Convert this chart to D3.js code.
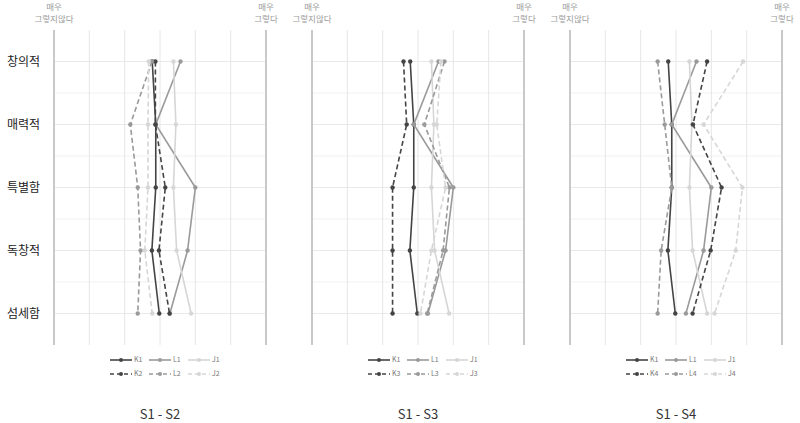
<!DOCTYPE html>
<html><head><meta charset="utf-8">
<script src="https://cdn.jsdelivr.net/npm/d3@7"></script>
<style>body{margin:0;background:#fff}svg{display:block;font-family:"Noto Sans CJK KR","Noto Sans",sans-serif}</style>
</head><body><svg id="c" width="800" height="423"></svg>
<script>
const categories = ['창의적','매력적','특별함','독창적','섬세함'];
const scaleTicks = [1,2,3,4,5,6,7];
const leftLabel = ['매우','그렇지않다'];
const rightLabel = ['매우','그렇다'];
const panelTitles = ['S1 - S2','S1 - S3','S1 - S4'];

const K1 = [3.78, 3.88, 3.88, 3.77, 3.98];
const L1 = [4.58, 3.88, 5.00, 4.78, 4.28];
const J1 = [4.38, 4.45, 4.38, 4.47, 4.88];
const K2 = [3.87, 3.87, 4.15, 3.97, 4.27];
const L2 = [3.77, 3.16, 3.37, 3.45, 3.37];
const J2 = [3.68, 3.66, 3.66, 3.57, 3.78];
const K3 = [3.59, 3.68, 3.28, 3.28, 3.28];
const L3 = [4.75, 4.18, 4.89, 4.71, 4.26];
const J3 = [4.65, 4.53, 4.78, 4.38, 4.07];
const K4 = [4.88, 4.48, 5.29, 4.98, 4.47];
const L4 = [3.48, 3.68, 3.88, 3.58, 3.48];
const J4 = [5.90, 4.78, 5.88, 5.69, 5.09];

const panels = [
  {title: panelTitles[0], series: [['K1',K1],['L1',L1],['J1',J1],['K2',K2],['L2',L2],['J2',J2]]},
  {title: panelTitles[1], series: [['K1',K1],['L1',L1],['J1',J1],['K3',K3],['L3',L3],['J3',J3]]},
  {title: panelTitles[2], series: [['K1',K1],['L1',L1],['J1',J1],['K4',K4],['L4',L4],['J4',J4]]}
];
const colorOf = {K:'#444444', L:'#9a9a9a', J:'#d6d6d6'};

const svg = d3.select('#c');
const panelLeft = [54, 312, 570], panelW = 212;
const plotTop = 30, plotBottom = 345;
const y = d3.scalePoint().domain(categories).range([plotTop, plotBottom]).padding(0.5);
const step = y.step();

panelLeft.forEach((px, pi) => {
  const P = panels[pi];
  const x = d3.scaleLinear().domain([1,7]).range([px, px+panelW]);
  const g = svg.append('g');
  const minors = categories.slice(0,-1).map(c => y(c)+step/2);
  g.selectAll('.hmin').data(minors).join('line')
    .attr('x1', x(1)).attr('x2', x(7)).attr('y1', d=>d).attr('y2', d=>d)
    .attr('stroke', '#f1f1f1').attr('stroke-width', 1);
  g.selectAll('.hmaj').data(categories).join('line')
    .attr('x1', x(1)).attr('x2', x(7)).attr('y1', d=>y(d)).attr('y2', d=>y(d))
    .attr('stroke', '#e9e9e9').attr('stroke-width', 1);
  g.selectAll('.v').data(scaleTicks).join('line')
    .attr('x1', d=>x(d)).attr('x2', d=>x(d)).attr('y1', plotTop).attr('y2', plotBottom)
    .attr('stroke', d => (d===1||d===7) ? '#c9c9c9' : '#e6e6e6')
    .attr('stroke-width', d => (d===1||d===7) ? 2 : 1);
  [[1,leftLabel],[7,rightLabel]].forEach(([v,lab]) => {
    lab.forEach((t,i) => g.append('text').attr('x', x(v)).attr('y', 9.5 + i*12)
      .attr('text-anchor','middle').attr('font-size', 8.5).attr('fill','#9a9a9a').text(t));
  });
  if (pi === 0) {
    g.selectAll('.cl').data(categories).join('text')
      .attr('x', 40).attr('y', d=>y(d)).attr('dy','0.35em').attr('text-anchor','end')
      .attr('font-size', 12).attr('fill','#222').text(d=>d);
  }
  const line = d3.line().x(d=>x(d[1])).y(d=>y(d[0]));
  P.series.forEach(([name, vals], si) => {
    const dashed = si >= 3;
    const col = colorOf[name[0]];
    const pts = categories.map((c,i)=>[c, vals[i]]);
    g.append('path').datum(pts).attr('d', line).attr('fill','none')
      .attr('stroke', col).attr('stroke-width', 1.6)
      .attr('stroke-dasharray', dashed ? '5,3' : null);
    g.selectAll(null).data(pts).join('circle')
      .attr('cx', d=>x(d[1])).attr('cy', d=>y(d[0])).attr('r', 2.2).attr('fill', col);
  });
  P.series.forEach(([name], si) => {
    const row = Math.floor(si/3), col = si % 3;
    const lx = px + 56 + col*39, ly = 360 + row*14;
    const c = colorOf[name[0]];
    g.append('line').attr('x1', lx).attr('x2', lx+22).attr('y1', ly).attr('y2', ly)
      .attr('stroke', c).attr('stroke-width', 1.6)
      .attr('stroke-dasharray', row ? '4,3' : null);
    g.append('circle').attr('cx', lx+11).attr('cy', ly).attr('r', 2).attr('fill', c);
    g.append('text').attr('x', lx+24).attr('y', ly).attr('dy','0.35em')
      .attr('font-size', 7).attr('fill','#777').text(name);
  });
  g.append('text').attr('x', x(4)).attr('y', 414).attr('dy','0.35em').attr('text-anchor','middle')
    .attr('font-size', 13).attr('fill','#333').text(P.title);
});
</script></body></html>
